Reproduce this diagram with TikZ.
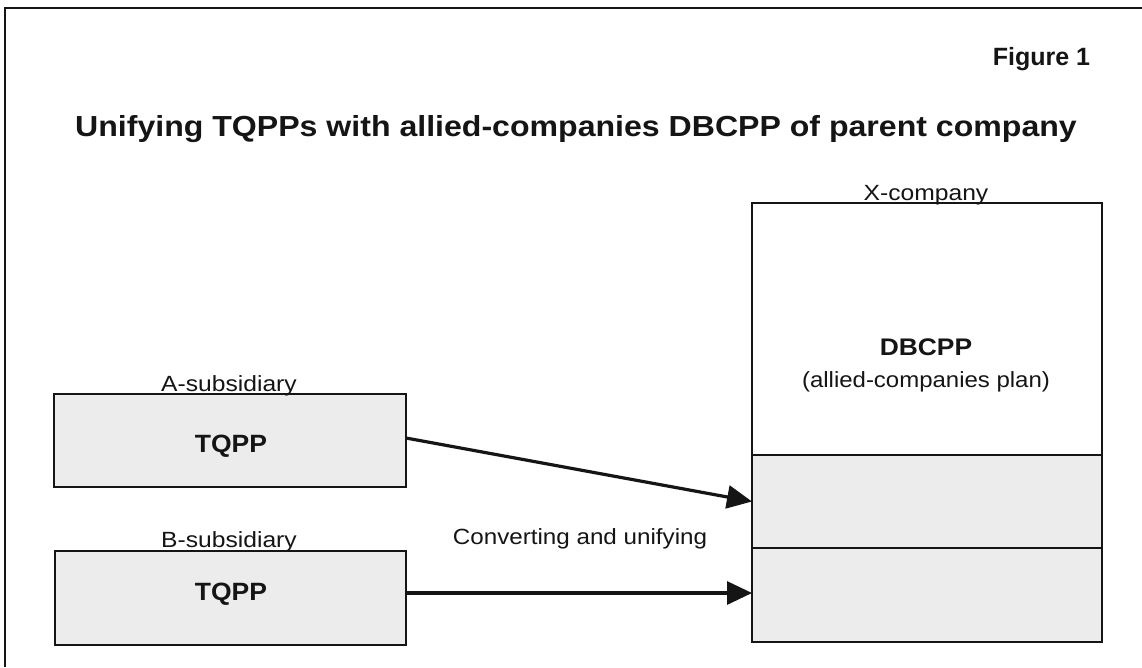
\documentclass[tikz,border=0pt]{standalone}
\usepackage{fontspec}
\usepackage{graphicx}
\setmainfont{Liberation Sans}
\usetikzlibrary{arrows.meta,calc}
\newcommand\hs[1]{\scalebox{1.12}[1]{#1}}
\newcommand\hsb[2]{\scalebox{#1}[1]{#2}}
\definecolor{boxgray}{HTML}{ECECEC}
\definecolor{ink}{HTML}{151515}
\tikzset{
  plainbox/.style={draw=ink, line width=1.8pt, inner sep=0pt, outer sep=0pt, anchor=center},
  graybox/.style={plainbox, fill=boxgray},
  lbl/.style={inner sep=0pt, outer sep=0pt, anchor=base, text=ink, font=\fontsize{22}{26}\selectfont},
  blbl/.style={lbl, font=\fontsize{25}{30}\selectfont\bfseries},
  conn/.style={draw=ink, line width=3.2pt, -{Triangle[length=25pt,width=23pt]}}
}
\begin{document}
\begin{tikzpicture}[x=1pt,y=-1pt]
\useasboundingbox (0,0) rectangle (1142,667);
\fill[white] (0,0) rectangle (1142,667);
% outer frame (only top and left edges visible)
\coordinate (frameTL) at (5,8);
\coordinate (frameTR) at (1142,8);
\coordinate (frameBL) at (5,667);
\draw[ink, line width=2pt] (frameTR) -- (frameTL) -- (frameBL);
% headings
\node[blbl, anchor=base east] (fig) at (1090,65) {\hsb{1.0}{Figure 1}};
\node[lbl, font=\fontsize{29}{34}\selectfont\bfseries] (title) at (576,136) {\hsb{1.106}{Unifying TQPPs with allied-companies DBCPP of parent company}};
% subsidiaries
\node[graybox, minimum width=352pt, minimum height=93pt] (A) at (230,440.5) {};
\node[graybox, minimum width=351pt, minimum height=94pt] (B) at (230.5,598) {};
\node[lbl] (Alab) at (229,391) {\hs{A-subsidiary}};
\node[lbl] (Blab) at (229,547) {\hs{B-subsidiary}};
\node[blbl] (Atx) at (231,452) {\hsb{1.06}{TQPP}};
\node[blbl] (Btx) at (231,600) {\hsb{1.06}{TQPP}};
% X-company
\node[plainbox, fill=white, minimum width=350pt, minimum height=252pt] (X) at (927,329) {};
\node[graybox, minimum width=350pt, minimum height=93pt] (S2) at (927,501.5) {};
\node[graybox, minimum width=350pt, minimum height=94pt] (S3) at (927,595) {};
\node[lbl] (Xlab) at (926,200) {\hs{X-company}};
\node[blbl, font=\fontsize{24}{29}\selectfont\bfseries] (dbcpp) at (926,355) {\hsb{1.1}{DBCPP}};
\node[lbl] (plan) at (926,387) {\hsb{1.09}{(allied-companies plan)}};
% arrows
\node[lbl] (conv) at (580,544) {\hsb{1.1}{Converting and unifying}};
\draw[conn] ($(A.east)+(0,-2.5)$) -- (S2.west);
\draw[conn] ($(B.east |- S3.west)+(0,-2)$) -- ($(S3.west)+(0,-2)$);
\end{tikzpicture}
\end{document}
